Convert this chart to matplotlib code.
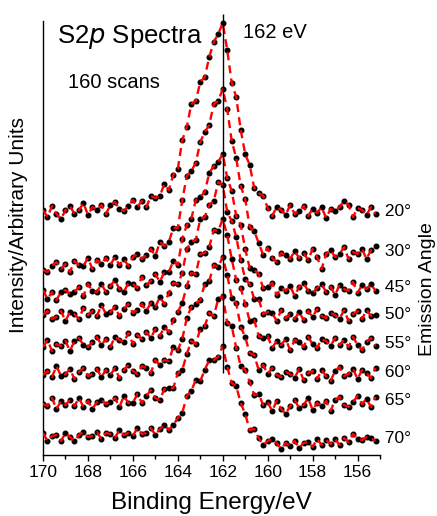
import matplotlib
matplotlib.use("Agg")
import matplotlib.pyplot as plt
import matplotlib.transforms as mtransforms
import numpy as np

plt.rcParams['font.family'] = ['Liberation Sans', 'DejaVu Sans']

# Binding energy grid (eV), 170.0 down to 155.2 in 0.2 eV steps
energy = [round(170.0 - 0.2 * k, 1) for k in range(75)]

angles = ["20°", "30°", "45°", "50°", "55°", "60°", "65°", "70°"]

# Offset intensities (arbitrary units)
s20 = [247, 240, 251, 243, 238, 247, 251, 243, 247, 254, 242, 250, 247, 252, 243, 252, 255, 248, 246, 251,
       257, 250, 256, 250, 261, 259, 261, 273, 267, 282, 288, 317, 330, 353, 356, 375, 380, 400, 415, 423,
       434, 407, 374, 360, 327, 303, 292, 269, 264, 261, 249, 241, 250, 247, 242, 252, 243, 246, 251, 241,
       248, 244, 250, 239, 248, 246, 250, 256, 252, 240, 249, 247, 242, 250, 243]
s30 = [187, 185, 191, 195, 188, 193, 185, 196, 192, 191, 199, 188, 197, 193, 199, 192, 200, 192, 198, 191,
       200, 203, 198, 202, 208, 201, 215, 211, 215, 229, 229, 257, 281, 286, 294, 315, 325, 332, 353, 356,
       368, 348, 316, 299, 271, 258, 230, 226, 214, 202, 209, 199, 195, 204, 202, 198, 206, 199, 204, 197,
       208, 200, 188, 203, 207, 200, 203, 210, 198, 205, 203, 208, 198, 207, 211]
s45 = [167, 158, 165, 157, 165, 167, 163, 165, 170, 161, 173, 166, 165, 173, 165, 171, 177, 168, 165, 174,
       173, 169, 180, 172, 176, 183, 175, 185, 185, 196, 192, 218, 232, 238, 257, 260, 265, 284, 291, 295,
       303, 279, 266, 241, 232, 208, 189, 187, 183, 169, 170, 174, 162, 169, 166, 171, 161, 170, 174, 166,
       164, 169, 173, 165, 170, 162, 172, 168, 166, 175, 164, 172, 168, 173, 166]
s50 = [142, 146, 138, 140, 146, 136, 145, 143, 138, 149, 142, 146, 141, 152, 143, 145, 150, 141, 148, 153,
       144, 147, 153, 146, 154, 150, 160, 153, 164, 174, 173, 184, 208, 215, 217, 238, 240, 252, 256, 275,
       272, 245, 236, 220, 197, 178, 173, 158, 158, 143, 145, 144, 136, 147, 139, 143, 138, 145, 137, 146,
       140, 148, 141, 139, 144, 142, 138, 147, 136, 143, 146, 138, 147, 141, 142]
s55 = [110, 117, 106, 113, 111, 116, 106, 116, 119, 112, 110, 115, 120, 112, 118, 110, 120, 117, 115, 124,
       113, 122, 118, 125, 119, 128, 121, 130, 125, 137, 145, 154, 171, 184, 183, 203, 204, 210, 227, 226,
       238, 222, 198, 177, 169, 153, 136, 137, 121, 119, 121, 109, 116, 112, 118, 107, 117, 115, 110, 120,
       113, 109, 118, 116, 111, 119, 112, 117, 110, 120, 112, 107, 115, 119, 111]
s60 = [82, 86, 80, 91, 81, 83, 88, 78, 85, 89, 81, 83, 88, 80, 87, 82, 89, 79, 87, 92,
       86, 83, 91, 89, 84, 97, 92, 97, 96, 110, 107, 118, 139, 150, 153, 157, 173, 176, 192, 190,
       200, 182, 159, 154, 130, 120, 104, 102, 87, 92, 83, 89, 82, 80, 85, 83, 79, 88, 77, 84,
       86, 78, 87, 81, 76, 86, 90, 81, 83, 88, 78, 87, 84, 79, 89]
s65 = [53, 51, 59, 48, 56, 52, 57, 51, 59, 50, 56, 48, 55, 57, 53, 55, 59, 50, 61, 54,
       54, 63, 54, 61, 67, 59, 57, 68, 69, 69, 84, 87, 103, 116, 113, 128, 131, 144, 141, 158,
       161, 134, 131, 109, 91, 87, 75, 62, 63, 52, 55, 46, 56, 48, 43, 51, 57, 49, 52, 59,
       47, 54, 51, 56, 46, 57, 60, 52, 50, 55, 61, 53, 58, 50, 60]
s70 = [24, 16, 21, 22, 16, 24, 20, 16, 22, 25, 20, 21, 25, 18, 24, 23, 19, 27, 22, 24,
       21, 29, 23, 24, 29, 22, 28, 32, 27, 32, 39, 44, 61, 66, 77, 76, 87, 97, 97, 100,
       111, 90, 74, 71, 54, 43, 27, 28, 19, 12, 16, 18, 14, 8, 14, 11, 16, 9, 14, 15,
       10, 18, 12, 17, 13, 18, 12, 19, 15, 23, 18, 17, 20, 19, 16]

series = [s20, s30, s45, s50, s55, s60, s65, s70]

xticks_major = [170, 168, 166, 164, 162, 160, 158, 156]
peak_energy = 162.0

W, H = 437, 516
fig = plt.figure(figsize=(W / 100, H / 100), dpi=100)
ax = fig.add_axes([43 / W, 1 - 455 / H, 337 / W, 441 / H])

for vals in series:
    ax.plot(energy, vals, linestyle='none', marker='o', ms=3.3,
            mfc='black', mec='black', zorder=2)
    ax.plot(energy, vals, color='#ff0000', lw=1.7, dashes=(3.4, 2.2), zorder=3)

# reference line at the peak energy
ax.vlines(peak_energy, 84, 443, color='black', lw=1.0, zorder=4, clip_on=False)

ax.set_xlim(170, 155)
ax.set_ylim(2, 443)
ax.set_xticks(xticks_major)
ax.set_xticks(np.arange(155, 171, 1), minor=True)
ax.tick_params(axis='x', which='major', direction='out', length=4.5, width=1.0,
               labelsize=12.5, pad=3)
ax.tick_params(axis='x', which='minor', direction='out', length=2.8, width=1.0)
ax.set_yticks([])
for side in ['top', 'right']:
    ax.spines[side].set_visible(False)
ax.spines['left'].set_bounds(2, 436)
ax.spines['left'].set_linewidth(1.0)
ax.spines['bottom'].set_linewidth(1.0)

# angle labels at the right, level with each trace's right end
trans = mtransforms.blended_transform_factory(ax.transAxes, ax.transData)
for lab, vals in zip(angles, series):
    yv = float(np.mean(vals[-6:]))
    ax.text(1.0, yv, " " + lab, transform=trans, ha='left', va='center',
            fontsize=12.5, clip_on=False)

fig.text(211 / W, 1 - 509 / H, "Binding Energy/eV", ha='center', va='baseline',
         fontsize=17.5)
fig.text(19 / W, 1 - 225 / H, "Intensity/Arbitrary Units", rotation=90,
         ha='center', va='center', fontsize=15)
fig.text(428 / W, 1 - 289 / H, "Emission Angle", rotation=90,
         ha='center', va='center', fontsize=14)

fig.text(57 / W, 1 - 43 / H, "S2$\\it{p}$ Spectra", fontsize=18.5, va='baseline')
fig.text(243 / W, 1 - 38 / H, "162 eV", fontsize=14.5, va='baseline')
fig.text(68 / W, 1 - 88 / H, "160 scans", fontsize=14.5, va='baseline')

fig.savefig("out.png", dpi=100)
